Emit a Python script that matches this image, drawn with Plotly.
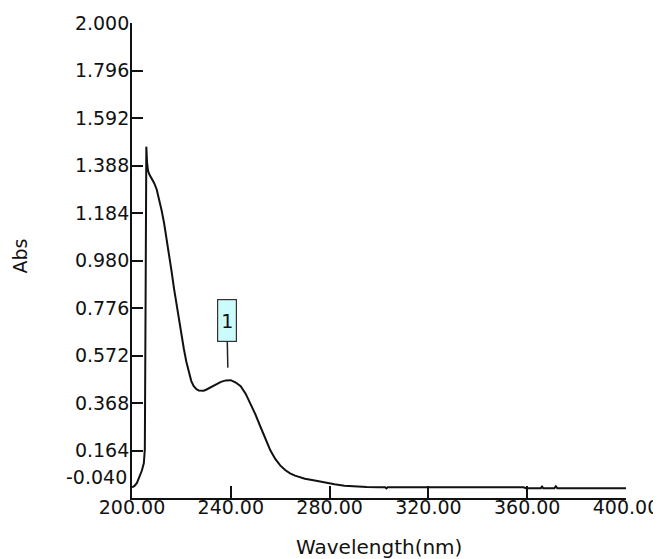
import plotly.graph_objects as go

# Spectrum
wavelength = [200.0, 201.0, 202.0, 203.0, 204.0, 204.8, 205.2, 205.5, 205.8, 206.1, 206.5,
              207.0, 208.0, 209.0, 210.0, 211.0, 212.0, 213.0, 214.0, 215.0, 216.0, 217.0,
              218.0, 219.0, 220.0, 221.0, 222.0, 223.0, 224.0, 225.0, 226.0, 227.0, 228.0,
              229.0, 230.0, 232.0, 234.0, 236.0, 238.0, 239.0, 240.0, 242.0, 244.0, 246.0,
              248.0, 250.0, 252.0, 254.0, 256.0, 258.0, 260.0, 262.0, 264.0, 266.0, 268.0,
              270.0, 274.0, 278.0, 282.0, 286.0, 290.0, 295.0, 300.0, 302.5, 303.0, 303.5,
              310.0, 320.0, 340.0, 358.5, 359.5, 365.5, 366.0, 366.5, 371.0, 371.6, 372.2,
              380.0, 390.0, 400.0]
absorbance = [0.006, 0.012, 0.025, 0.048, 0.078, 0.110, 0.170, 0.800, 1.469, 1.400, 1.365,
              1.350, 1.332, 1.312, 1.285, 1.245, 1.195, 1.140, 1.075, 1.005, 0.935, 0.860,
              0.790, 0.725, 0.660, 0.600, 0.545, 0.497, 0.462, 0.440, 0.428, 0.422, 0.420,
              0.421, 0.425, 0.437, 0.449, 0.459, 0.465, 0.467, 0.466, 0.456, 0.440, 0.408,
              0.365, 0.318, 0.266, 0.215, 0.165, 0.128, 0.100, 0.080, 0.066, 0.056, 0.048,
              0.043, 0.035, 0.026, 0.019, 0.013, 0.009, 0.007, 0.006, 0.006, 0.001, 0.006,
              0.006, 0.006, 0.006, 0.006, 0.002, 0.002, 0.009, 0.002, 0.002, 0.010, 0.002,
              0.002, 0.002, 0.002]

y_ticks = [2.000, 1.796, 1.592, 1.388, 1.184, 0.980, 0.776, 0.572, 0.368, 0.164, -0.040]
y_labels = ["2.000", "1.796", "1.592", "1.388", "1.184", "0.980", "0.776", "0.572",
            "0.368", "0.164", " "]
x_ticks = [200, 240, 280, 320, 360, 400]
x_labels = ["200.00", "240.00", "280.00", "320.00", "360.00", "400.00"]

peak_wl = [238.8]
peak_abs = [0.520]
peak_text = ["1"]

FONT = "DejaVu Sans"
INK = "#111111"

fig = go.Figure()
fig.add_trace(go.Scatter(x=wavelength, y=absorbance, mode="lines",
                         line=dict(color=INK, width=2), showlegend=False,
                         hoverinfo="skip"))

fig.update_layout(
    width=653, height=551,
    margin=dict(l=124, r=35, t=15, b=61),
    paper_bgcolor="white", plot_bgcolor="white",
    font=dict(family=FONT, size=19, color=INK),
    xaxis=dict(range=[200, 400], tickvals=x_ticks, ticktext=x_labels, automargin=False,
               ticks="inside", ticklen=12, tickwidth=1.5, tickcolor=INK,
               showline=True, linewidth=1.8, linecolor=INK, ticklabelstandoff=-9,
               showgrid=False, zeroline=False, tickfont=dict(size=19)),
    yaxis=dict(range=[-0.040, 2.000], tickvals=y_ticks, ticktext=y_labels, automargin=False,
               ticks="inside", ticklen=11, tickwidth=1.5, tickcolor=INK,
               showline=True, linewidth=1.8, linecolor=INK, ticklabelstandoff=-3,
               showgrid=False, zeroline=False, tickfont=dict(size=19)),
)

# bottom y label is drawn shifted up in the reference
fig.add_annotation(x=0, xref="paper", xanchor="right", xshift=-3,
                   y=0, yref="paper", yanchor="bottom", yshift=8, text="-0.040",
                   showarrow=False, font=dict(family=FONT, size=19, color=INK))

# axis titles
fig.add_annotation(x=0.5, xref="paper", xanchor="center", y=-0.103, yref="paper",
                   yanchor="middle", text="Wavelength(nm)",
                   showarrow=False, font=dict(family=FONT, size=20, color=INK))
fig.add_annotation(x=-0.227, xref="paper", xanchor="center", y=0.51, yref="paper",
                   yanchor="middle", text="Abs", textangle=-90,
                   showarrow=False, font=dict(family=FONT, size=19, color=INK))

# peak marker
for xw, ya, t in zip(peak_wl, peak_abs, peak_text):
    fig.add_annotation(x=xw, y=ya, xref="x", yref="y", text=t, showarrow=True,
                       arrowhead=0, arrowwidth=1.5, arrowcolor="#222222",
                       ax=-1, ay=-47, width=18, height=41, borderpad=0,
                       bgcolor="#ccfbfb", bordercolor="#333333", borderwidth=1.2,
                       font=dict(family=FONT, size=19, color=INK))

fig.write_html("out.html")
